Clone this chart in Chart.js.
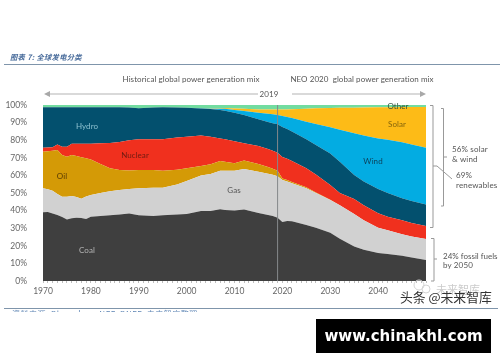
<!DOCTYPE html>
<html>
<head>
<meta charset="utf-8">
<script src="https://cdn.jsdelivr.net/npm/chart.js@4"></script>
<style>
  html, body { margin: 0; padding: 0; background: #fff; }
  #page { position: relative; width: 500px; height: 362px; overflow: hidden; font-family: Lato, sans-serif; color: #555; }
  canvas { position: absolute; left: 0; top: 0; }
  .t { position: absolute; white-space: nowrap; font-size: 8px; line-height: 10px; letter-spacing: 0.06px; transform: translate(-50%, -50%); }
  .n { position: absolute; white-space: nowrap; font-size: 8px; line-height: 10px; letter-spacing: 0.15px; }
  .rule { position: absolute; left: 4px; height: 1px; background: #7f95ab; }
  #title { position: absolute; left: 10px; top: 52px; font: italic bold 7.3px "Noto Sans CJK SC"; color: #4a6d9c; letter-spacing: 0.3px; }
  #source { position: absolute; left: 12px; top: 309px; height: 3px; overflow: hidden; font: 8px/10px "Noto Sans CJK SC"; color: #5f86b5; letter-spacing: 0.5px; }
  #mark1 { position: absolute; left: 436px; top: 281px; font: 11px "Noto Sans CJK SC"; color: #ccc; }
  #mark2 { position: absolute; left: 400px; top: 287px; font: 12.8px "Noto Sans CJK SC"; color: #333; }
  #site { position: absolute; left: 316px; top: 319px; width: 175px; height: 34px; background: #000; color: #fff; font: bold 15px/34px "DejaVu Sans"; text-align: center; }
</style>
</head>
<body>
<div id="page">
  <canvas id="chart" width="500" height="362"></canvas>
  <div id="title">图表 7: 全球发电分类</div>
  <div class="rule" style="top:64px;width:496px"></div>
  <div class="t" style="left:191px;top:79px">Historical global power generation mix</div>
  <div class="t" style="left:362px;top:79px">NEO 2020&nbsp; global power generation mix</div>
  <div class="t" style="left:269px;top:94px">2019</div>
  <div class="t" style="left:87px;top:126px;color:#8cc0d0">Hydro</div>
  <div class="t" style="left:135px;top:155px;color:#6e1b12">Nuclear</div>
  <div class="t" style="left:62px;top:176px;color:#5a3b02">Oil</div>
  <div class="t" style="left:234px;top:190px;color:#555">Gas</div>
  <div class="t" style="left:87px;top:250px;color:#b5b5b5">Coal</div>
  <div class="t" style="left:373px;top:161px;color:#0d3f58">Wind</div>
  <div class="t" style="left:397px;top:124px;color:#86650c">Solar</div>
  <div class="t" style="left:398px;top:106px;color:#2f4f3a">Other</div>
  <div class="n" style="left:452px;top:144px">56% solar</div>
  <div class="n" style="left:452px;top:154px">&amp; wind</div>
  <div class="n" style="left:456px;top:170px">69%</div>
  <div class="n" style="left:456px;top:180px">renewables</div>
  <div class="n" style="left:443px;top:251px;letter-spacing:0">24% fossil fuels</div>
  <div class="n" style="left:443px;top:260px">by 2050</div>
  <div class="rule" style="top:308px;width:494px"></div>
  <div id="source">资料来源: Bloomberg NEF, BNEF, 未来智库整理</div>
  <div id="mark1">未来智库</div>
  <div id="mark2">头条 @未来智库</div>
  <div id="site">www.chinakhl.com</div>
</div>
<script>
// upper edge of each band, in % of generation
const years = [1970,1971,1972,1973,1974,1975,1976,1977,1978,1979,1980,1982,1984,1986,1988,1990,1993,1995,1998,2000,2003,2005,2007,2008,2010,2012,2015,2017,2018,2019,2020,2021,2022,2025,2027,2030,2032,2035,2037,2040,2042,2045,2047,2050];
const coalTop = [39,39.2,38.4,37.5,36.4,35,35.6,36,35.8,35.2,36.5,37,37.3,37.8,38.3,37.3,37,37.3,37.8,38,39.8,39.8,40.7,40.4,40,40.6,38.6,37.5,37,36,33.5,34.1,34,31.8,30.2,27.4,24,19.6,17.8,15.9,15.3,14.4,13.3,11.9];
const gasTop = [52.7,52.2,51.3,49.4,47.9,47.9,48.3,47.7,46.8,48,48.9,50,51,51.7,52.3,52.7,53,53,54.8,56.8,60,60.8,62.7,62.7,62.7,63.6,62.1,61,60.4,59.5,57.4,56.6,55.6,52.7,50,46,43,38,34.5,30.3,28.8,26.5,25.3,23.9];
const oilTop = [73.5,73.7,74,74.5,71.6,70.6,71.6,71,70.3,69.8,69,66.5,64,63,62.8,63,63,62.6,63.2,64,65.3,66.3,68.2,67.7,66.9,68.4,66.5,64.8,63.8,62.7,58.3,57.4,56.3,53.2,50.3,46.2,43,38,34.5,30.3,28.8,26.5,25.3,23.9];
const nuclearTop = [75.7,75.8,76,77.6,76.3,76.3,78,78,78,78,78,78.2,78.4,79,80,80.5,80.6,80.5,81.5,82,82.6,82,81,80.6,79.4,78.2,76.7,75,74,72.8,70.5,69.5,68.2,64,60.5,54.5,50,46.6,43,38.5,36.5,34.5,33,31.2];
const hydroTop = [98.7,98.7,98.7,98.7,98.7,98.7,98.7,98.7,98.7,98.7,98.7,98.7,98.7,98.7,98.6,98.2,98.6,98.7,98.6,98.5,98,97.7,97.2,96.8,95.6,94.3,91.9,90.3,89.6,89,87.5,86.3,85,80.5,77.3,72.5,67.8,60.2,56.5,52.3,50,47,45.5,43.5];
const windTop = [98.7,98.7,98.7,98.7,98.7,98.7,98.7,98.7,98.7,98.7,98.7,98.7,98.7,98.7,98.6,98.2,98.6,98.7,98.6,98.5,98.1,97.9,97.9,97.9,97.2,96.6,95.6,95,94.7,94.3,93.8,93.2,92.6,90.5,89.2,87.3,86,83.9,82.7,80.9,80.2,78.8,77.6,75.7];
const solarTop = [98.7,98.7,98.7,98.7,98.7,98.7,98.7,98.7,98.7,98.7,98.7,98.7,98.7,98.7,98.6,98.2,98.6,98.7,98.6,98.5,98.1,98,98.2,98.3,98,97.8,97.5,97.4,97.4,97.4,97.4,97.5,97.6,97.9,98.1,98.3,98.4,98.5,98.6,98.7,98.7,98.8,98.8,98.9];
const otherTop = [100,100,100,100,100,100,100,100,100,100,100,100,100,100,100,100,100,100,100,100,100,100,100,100,100,100,100,100,100,100,100,100,100,100,100,100,100,100,100,100,100,100,100,100];

const area = (label, values, color, fill) => ({
  label,
  data: values.map((v, i) => ({ x: years[i], y: v })),
  backgroundColor: color,
  borderWidth: 0,
  pointRadius: 0,
  tension: 0,
  fill: fill || '-1'
});

function line(ctx, pts) {
  ctx.beginPath();
  pts.forEach((p, i) => i ? ctx.lineTo(p[0], p[1]) : ctx.moveTo(p[0], p[1]));
  ctx.stroke();
}

const notes = {
  id: 'notes',
  afterDraw(chart) {
    const ctx = chart.ctx;
    const x2019 = chart.scales.x.getPixelForValue(2019);
    ctx.save();
    ctx.strokeStyle = '#85888a';
    ctx.lineWidth = 1;
    line(ctx, [[x2019, chart.chartArea.top], [x2019, chart.chartArea.bottom]]);

    // arrows either side of 2019
    ctx.strokeStyle = '#b3b3b3';
    line(ctx, [[48, 94], [258, 94]]);
    line(ctx, [[292, 94], [421, 94]]);
    ctx.fillStyle = '#a8a8a8';
    ctx.beginPath(); ctx.moveTo(44, 94); ctx.lineTo(50, 91); ctx.lineTo(50, 97); ctx.fill();
    ctx.beginPath(); ctx.moveTo(426, 94); ctx.lineTo(420, 91); ctx.lineTo(420, 97); ctx.fill();

    // brackets on the right
    ctx.strokeStyle = '#999';
    line(ctx, [[430, 105.5], [433, 105.5], [433, 227.5], [430, 227.5]]);
    line(ctx, [[441, 108.5], [443.5, 108.5], [443.5, 206], [441, 206]]);
    line(ctx, [[443.5, 157], [447, 157]]);
    line(ctx, [[433, 166], [437, 166], [452, 179]]);
    line(ctx, [[431, 238.5], [434, 238.5], [434, 281], [431, 281]]);
    line(ctx, [[434, 259], [437, 259]]);

    // faint wechat bubbles of the watermark
    ctx.strokeStyle = '#d4d4d4';
    ctx.beginPath(); ctx.arc(419, 285, 5, 0, Math.PI * 2); ctx.stroke();
    ctx.beginPath(); ctx.arc(426, 289, 4, 0, Math.PI * 2); ctx.stroke();
    ctx.restore();
  }
};

new Chart(document.getElementById('chart'), {
  type: 'line',
  data: {
    datasets: [
      area('Coal', coalTop, '#3f3f3f', 'origin'),
      area('Gas', gasTop, '#d1d1d1'),
      area('Oil', oilTop, '#d49a06'),
      area('Nuclear', nuclearTop, '#f0301e'),
      area('Hydro', hydroTop, '#03506e'),
      area('Wind', windTop, '#03ace2'),
      area('Solar', solarTop, '#fdbb17'),
      area('Other', otherTop, '#72dca0')
    ]
  },
  options: {
    responsive: false,
    animation: false,
    layout: { padding: { left: 0, top: 105, right: 74, bottom: 51 } },
    plugins: { legend: { display: false }, tooltip: { enabled: false } },
    scales: {
      x: {
        type: 'linear',
        min: 1970,
        max: 2050,
        afterFit: s => { s.height = 30; },
        border: { display: false },
        grid: { drawOnChartArea: false, tickLength: 2, color: '#bdbdbd' },
        ticks: {
          stepSize: 1,
          autoSkip: false,
          maxRotation: 0,
          padding: 3,
          color: '#666',
          font: { family: 'Lato', size: 8.5 },
          // the 2050 label is hidden under the watermark in the source picture
          callback: v => (v % 10 === 0 && v < 2050 ? String(v) : '')
        }
      },
      y: {
        min: 0,
        max: 100,
        afterFit: s => { s.width = 43; },
        border: { display: false },
        grid: { display: false },
        ticks: {
          stepSize: 10,
          padding: 8,
          color: '#666',
          font: { family: 'Lato', size: 8.5 },
          callback: v => v + '%'
        }
      }
    }
  },
  plugins: [notes]
});
</script>
</body>
</html>
